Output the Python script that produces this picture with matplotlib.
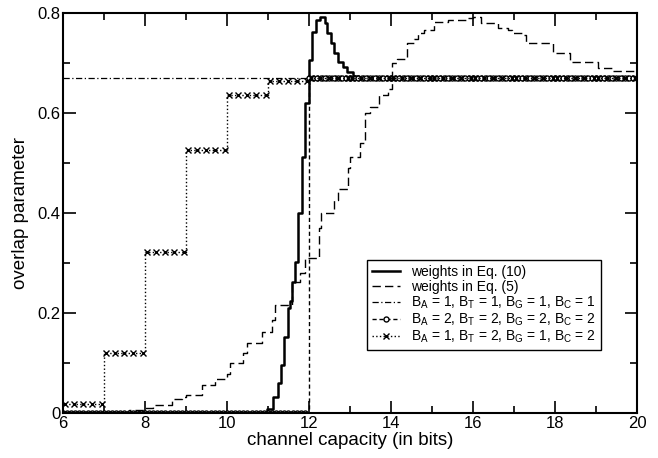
import matplotlib
matplotlib.use("Agg")
import matplotlib.pyplot as plt
from matplotlib.ticker import MultipleLocator, FixedLocator

plt.rcParams['font.family'] = ['Liberation Sans', 'DejaVu Sans']
plt.rcParams['mathtext.fontset'] = 'custom'
plt.rcParams['mathtext.rm'] = 'Liberation Sans'
plt.rcParams['mathtext.it'] = 'Liberation Sans'

# weights in Eq. (10) -- step breakpoints (x) and level held until next x
eq10_x = [6.0, 10.97, 11.12, 11.25, 11.33, 11.4, 11.48, 11.53, 11.58, 11.66, 11.74,
          11.83, 11.9, 12.0, 12.08, 12.17, 12.27, 12.38, 12.45, 12.53, 12.62, 12.72,
          12.82, 12.93, 13.07, 13.2, 20.0]
eq10_y = [0.0, 0.008, 0.032, 0.06, 0.096, 0.152, 0.21, 0.224, 0.262, 0.302, 0.40,
          0.512, 0.62, 0.706, 0.762, 0.786, 0.792, 0.78, 0.76, 0.74, 0.72, 0.702,
          0.692, 0.682, 0.674, 0.67, 0.67]

# weights in Eq. (5)
eq5_x = [6.0, 7.6, 8.0, 8.2, 8.65, 8.9, 9.0, 9.4, 9.7, 10.0, 10.07, 10.4, 10.5, 10.85,
         11.1, 11.18, 11.58, 11.78, 11.9, 12.25, 12.3, 12.6, 12.7, 12.95, 13.0, 13.25,
         13.36, 13.5, 13.7, 13.93, 14.03, 14.15, 14.4, 14.55, 14.65, 14.8, 15.05, 15.4,
         15.85, 16.0, 16.2, 16.6, 16.85, 16.95, 17.2, 17.3, 17.95, 18.37, 19.05, 19.4, 20.0]
eq5_y = [0.0, 0.006, 0.01, 0.016, 0.028, 0.032, 0.036, 0.056, 0.068, 0.078, 0.10, 0.12,
         0.14, 0.162, 0.186, 0.216, 0.262, 0.28, 0.31, 0.37, 0.40, 0.426, 0.448, 0.49,
         0.512, 0.54, 0.60, 0.612, 0.636, 0.648, 0.70, 0.708, 0.74, 0.748, 0.76, 0.766,
         0.782, 0.786, 0.79, 0.792, 0.78, 0.77, 0.766, 0.76, 0.756, 0.74, 0.72, 0.702,
         0.69, 0.684, 0.684]

# B_A = 1, B_T = 1, B_G = 1, B_C = 1
b1111_x = [6.0, 20.0]
b1111_y = [0.67, 0.67]

# B_A = 2, B_T = 2, B_G = 2, B_C = 2  (sampled every 0.1 bit, 6..20)
b2222_x = [round(6.0 + 0.1 * i, 1) for i in range(141)]
b2222_y = [0.0] * 60 + [0.67] * 81

# B_A = 1, B_T = 2, B_G = 1, B_C = 2  (one level per integer bit interval)
b1212_start = [6, 7, 8, 9, 10, 11, 12, 13, 14, 15, 16, 17, 18, 19]
b1212_level = [0.018, 0.12, 0.322, 0.526, 0.636, 0.665, 0.67, 0.67, 0.67, 0.67,
               0.67, 0.67, 0.67, 0.67]
sub = [0.04, 0.26, 0.49, 0.72, 0.95]
b1212_x = [s + o for s in b1212_start for o in sub]
b1212_y = [v for v in b1212_level for o in sub]

fig = plt.figure(figsize=(6.58, 4.58), dpi=100)
ax = fig.add_axes([0.0957, 0.0983, 0.8723, 0.8733])

ax.step(eq10_x, eq10_y, where='post', color='black', lw=1.8,
        label='weights in Eq. (10)')
ax.step(eq5_x, eq5_y, where='post', color='black', lw=1.0, dashes=(6, 3),
        label='weights in Eq. (5)')
ax.plot(b1111_x, b1111_y, color='black', lw=0.9, dashes=(5, 2, 1, 2),
        label=r'B$_\mathrm{A}$ = 1, B$_\mathrm{T}$ = 1, B$_\mathrm{G}$ = 1, B$_\mathrm{C}$ = 1')
ax.plot(b2222_x, b2222_y, color='black', lw=1.0, dashes=(3, 2), drawstyle='steps-post',
        marker='o', ms=3.6, mfc='white', mec='black', mew=1.0,
        label=r'B$_\mathrm{A}$ = 2, B$_\mathrm{T}$ = 2, B$_\mathrm{G}$ = 2, B$_\mathrm{C}$ = 2')
ax.plot(b1212_x, b1212_y, color='black', lw=1.0, linestyle=':', drawstyle='steps-mid',
        marker='x', ms=3.8, mew=1.0,
        label=r'B$_\mathrm{A}$ = 1, B$_\mathrm{T}$ = 2, B$_\mathrm{G}$ = 1, B$_\mathrm{C}$ = 2')

ax.set_xlim(6, 20)
ax.set_ylim(0, 0.8)
ax.xaxis.set_major_locator(MultipleLocator(2))
ax.xaxis.set_minor_locator(MultipleLocator(1))
ax.yaxis.set_major_locator(FixedLocator([0, 0.2, 0.4, 0.6, 0.8]))
ax.yaxis.set_minor_locator(MultipleLocator(0.1))
ax.set_yticklabels(['0', '0.2', '0.4', '0.6', '0.8'])
ax.tick_params(which='both', direction='in', top=True, right=True, labelsize=12,
               width=1.2, pad=2)
ax.tick_params(which='major', length=9)
ax.tick_params(which='minor', length=5)
for s in ax.spines.values():
    s.set_linewidth(1.5)

ax.set_xlabel('channel capacity (in bits)', fontsize=13.5, labelpad=1)
ax.set_ylabel('overlap parameter', fontsize=13.5, labelpad=6)

leg = ax.legend(loc='lower right', bbox_to_anchor=(0.937, 0.157), borderaxespad=0,
                fontsize=10, handlelength=2.0, handletextpad=0.8, labelspacing=0.06,
                fancybox=False, edgecolor='black', framealpha=1, borderpad=0.35)
leg.get_frame().set_linewidth(1.0)

fig.savefig('out.png', dpi=100)
